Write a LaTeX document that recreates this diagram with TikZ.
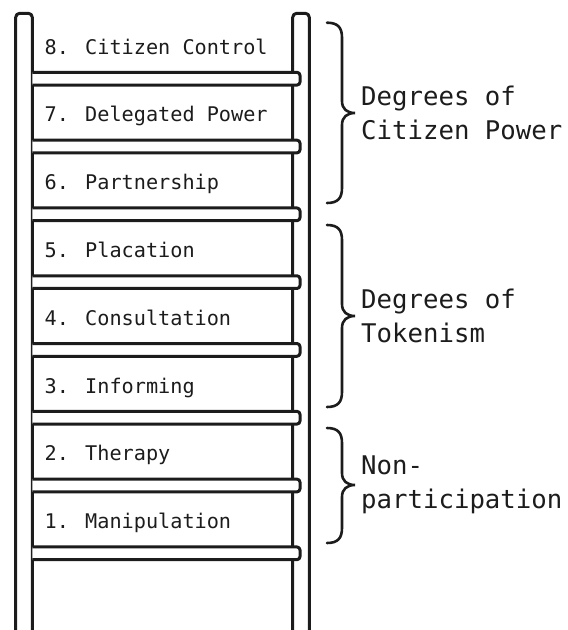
\documentclass[tikz,border=0pt]{standalone}
\usepackage{fontspec}
\newfontfamily\monofont{DejaVu Sans Mono}
\definecolor{ink}{HTML}{1C1C1C}
\tikzset{
  part/.style={draw=ink, line width=3pt, line join=round},
  rungbar/.style={part, fill=white, rounded corners=3pt},
  rail/.style={part, rounded corners=4pt},
  brace/.style={draw=ink, line width=2.6pt, line cap=round, line join=miter},
  rungtext/.style={anchor=base west, inner sep=0pt, text=ink,
    font=\monofont\fontsize{20.2}{24}\selectfont},
  grouptext/.style={anchor=west, inner sep=0pt, align=left, text=ink,
    font=\monofont\fontsize{25.7}{33.5}\selectfont},
}
\begin{document}
\begin{tikzpicture}[x=1pt, y=-1pt]
\useasboundingbox (0,0) rectangle (568,630);

% the two side rails, open at the bottom
\draw[rail] (15.7,630) -- (15.7,13.3) -- (32.3,13.3) -- (32.3,630);
\draw[rail] (292.7,630) -- (292.7,13.3) -- (309.3,13.3) -- (309.3,630);

% rungs with the level names above them
\foreach \k/\txt in {8/{8. Citizen Control}, 7/{7. Delegated Power},
                     6/{6. Partnership}, 5/{5. Placation},
                     4/{4. Consultation}, 3/{3. Informing},
                     2/{2. Therapy}, 1/{1. Manipulation}}{
  \pgfmathsetmacro{\yc}{78.7 + (8-\k)*67.8}
  \draw[rungbar] (32.3,\yc-6.35) -- (300,\yc-6.35) -- (300,\yc+6.35) -- (32.3,\yc+6.35);
  \node[rungtext] (level\k) at (44.5,\yc-24.6) {\txt};
}

% curly braces grouping the levels
\foreach \name/\top/\mid/\bot in {power/22.7/113/203, token/225/316/407, non/428/485/543}{
  \draw[brace] (327,\top) .. controls (338,\top) and (342,\top+5) .. (342,\top+15)
    -- (342,\mid-12) .. controls (342,\mid-4) and (347,\mid) .. (355,\mid)
    .. controls (347,\mid) and (342,\mid+4) .. (342,\mid+12)
    -- (342,\bot-15) .. controls (342,\bot-5) and (338,\bot) .. (327,\bot);
  \coordinate (\name tip) at (355,\mid);
}

\node[grouptext] (powerlabel) at ([xshift=6pt]powertip) {Degrees of\\Citizen Power};
\node[grouptext] (tokenlabel) at ([xshift=6pt]tokentip) {Degrees of\\Tokenism};
\node[grouptext] (nonlabel) at ([xshift=6pt]nontip) {Non-\\participation};
\end{tikzpicture}
\end{document}
